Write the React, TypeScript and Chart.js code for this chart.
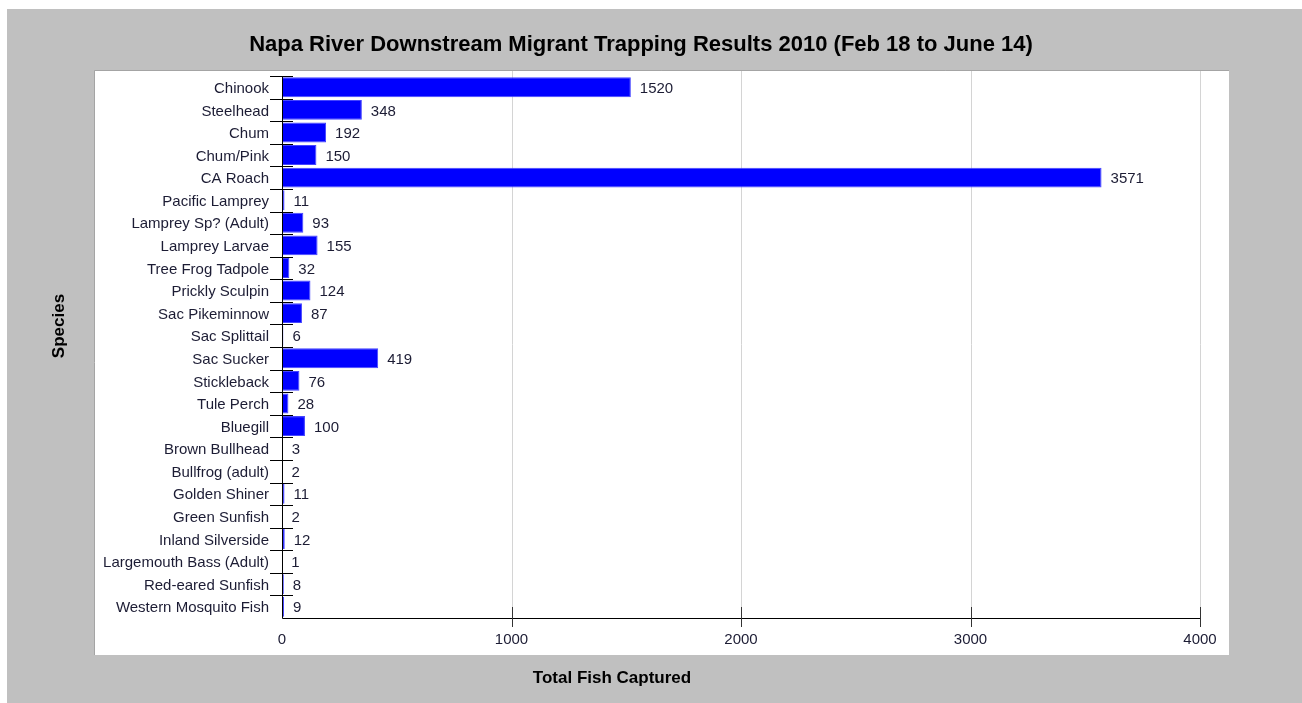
import React, { useEffect, useRef } from "react";
import { Chart, registerables } from "chart.js";

Chart.register(...registerables);

const species: string[] = [
  "Chinook",
  "Steelhead",
  "Chum",
  "Chum/Pink",
  "CA Roach",
  "Pacific Lamprey",
  "Lamprey Sp? (Adult)",
  "Lamprey Larvae",
  "Tree Frog Tadpole",
  "Prickly Sculpin",
  "Sac Pikeminnow",
  "Sac Splittail",
  "Sac Sucker",
  "Stickleback",
  "Tule Perch",
  "Bluegill",
  "Brown Bullhead",
  "Bullfrog (adult)",
  "Golden Shiner",
  "Green Sunfish",
  "Inland Silverside",
  "Largemouth Bass (Adult)",
  "Red-eared Sunfish",
  "Western Mosquito Fish",
];

const totals: number[] = [
  1520, 348, 192, 150, 3571, 11, 93, 155, 32, 124, 87, 6, 419, 76, 28, 100, 3, 2, 11, 2, 12, 1, 8, 9,
];

const xTicks: number[] = [0, 1000, 2000, 3000, 4000];

const chartTitle = "Napa River Downstream Migrant Trapping Results 2010 (Feb 18 to June 14)";
const yTitle = "Species";
const xTitle = "Total Fish Captured";

const FONT = "'Liberation Sans', Arial, sans-serif";
const TEXT = "#1c1c34";

const framePlugin = {
  id: "frame",
  beforeDraw(chart: any) {
    const ctx = chart.ctx;
    const W = chart.width;
    const H = chart.height;
    ctx.save();
    ctx.fillStyle = "#ffffff";
    ctx.fillRect(0, 0, W, H);
    ctx.fillStyle = "#c0c0c0";
    ctx.fillRect(7, 9, W - 7, H - 9);
    ctx.fillStyle = "#ffffff";
    ctx.fillRect(94, 71, 1229 - 94, 655 - 71);
    ctx.strokeStyle = "#a4a4a4";
    ctx.lineWidth = 1;
    ctx.beginPath();
    ctx.moveTo(94.5, 655);
    ctx.lineTo(94.5, 70.5);
    ctx.lineTo(1229, 70.5);
    ctx.stroke();

    // titles
    ctx.fillStyle = "#000000";
    ctx.textAlign = "center";
    ctx.textBaseline = "middle";
    ctx.font = "bold 22px " + FONT;
    ctx.fillText(chartTitle, 641, 45);
    ctx.font = "bold 17px " + FONT;
    ctx.fillText(xTitle, 612, 678);
    ctx.save();
    ctx.translate(59, 326);
    ctx.rotate(-Math.PI / 2);
    ctx.fillText(yTitle, 0, 0);
    ctx.restore();

    // vertical gridlines
    const xs = chart.scales.x;
    const area = chart.chartArea;
    ctx.strokeStyle = "#d4d4d4";
    ctx.lineWidth = 1;
    xTicks.forEach((t) => {
      if (t === 0) return;
      const x = Math.round(xs.getPixelForValue(t)) + 0.5;
      ctx.beginPath();
      ctx.moveTo(x, 71);
      ctx.lineTo(x, area.bottom);
      ctx.stroke();
    });
    ctx.restore();
  },
  afterDatasetsDraw(chart: any) {
    const ctx = chart.ctx;
    const xs = chart.scales.x;
    const ys = chart.scales.y;
    const area = chart.chartArea;
    ctx.save();
    // axis lines
    ctx.strokeStyle = "#000000";
    ctx.lineWidth = 1;
    const x0 = Math.round(area.left) + 0.5;
    const yb = Math.round(area.bottom) + 0.5;
    ctx.beginPath();
    ctx.moveTo(x0, area.top);
    ctx.lineTo(x0, yb);
    ctx.lineTo(area.right, yb);
    ctx.stroke();
    // y ticks at category boundaries (crossing axis)
    const band = (area.bottom - area.top) / species.length;
    for (let i = 0; i < species.length; i++) {
      const y = Math.round(ys.getPixelForValue(i) - band / 2) + 0.5;
      ctx.beginPath();
      ctx.moveTo(area.left - 12, y);
      ctx.lineTo(area.left + 11, y);
      ctx.stroke();
    }
    // x ticks crossing axis
    ctx.strokeStyle = "#333333";
    xTicks.forEach((t) => {
      if (t === 0) return;
      const x = Math.round(xs.getPixelForValue(t)) + 0.5;
      ctx.beginPath();
      ctx.moveTo(x, area.bottom - 11);
      ctx.lineTo(x, area.bottom + 9);
      ctx.stroke();
    });
    ctx.fillStyle = TEXT;
    ctx.font = "15px " + FONT;
    ctx.textBaseline = "middle";
    // y category labels
    ctx.textAlign = "right";
    species.forEach((s, i) => {
      ctx.fillText(s, area.left - 13, ys.getPixelForValue(i) + 1.5);
    });
    // x tick labels
    ctx.textAlign = "center";
    xTicks.forEach((t) => {
      ctx.fillText(String(t), xs.getPixelForValue(t), 640);
    });
    // value labels
    ctx.textAlign = "left";
    totals.forEach((v, i) => {
      const x = xs.getPixelForValue(v) + 9;
      const y = ys.getPixelForValue(i) + 1.5;
      ctx.fillText(String(v), x, y);
    });
    ctx.restore();
  },
};

export default function App() {
  const ref = useRef<HTMLCanvasElement | null>(null);
  useEffect(() => {
    if (!ref.current) return;
    const chart = new Chart(ref.current, {
      type: "bar",
      data: {
        labels: species,
        datasets: [
          {
            label: xTitle,
            data: totals,
            backgroundColor: "#0000ff",
            borderColor: "#4444ff",
            borderWidth: 1,
            categoryPercentage: 1,
            barPercentage: 0.88,
          },
        ],
      },
      options: {
        indexAxis: "y",
        responsive: false,
        animation: false,
        events: [],
        layout: { padding: { left: 94, top: 76, right: 102, bottom: 0 } },
        plugins: {
          legend: { display: false },
          title: { display: false },
          tooltip: { enabled: false },
        },
        scales: {
          x: {
            type: "linear",
            min: 0,
            max: 4000,
            afterBuildTicks: (scale: any) => {
              scale.ticks = xTicks.map((v) => ({ value: v }));
            },
            afterFit: (scale: any) => {
              scale.height = 85;
            },
            grid: { display: false },
            border: { display: false },
            ticks: { display: false },
          },
          y: {
            type: "category",
            afterFit: (scale: any) => {
              scale.width = 188;
            },
            grid: { display: false },
            border: { display: false },
            ticks: { display: false, autoSkip: false },
          },
        },
      },
      plugins: [framePlugin],
    });
    return () => chart.destroy();
  }, []);
  return (
    <div style={{ position: "absolute", left: 0, top: 0, width: 1302, height: 703 }}>
      <canvas ref={ref} width={1302} height={703} style={{ display: "block" }} />
    </div>
  );
}
